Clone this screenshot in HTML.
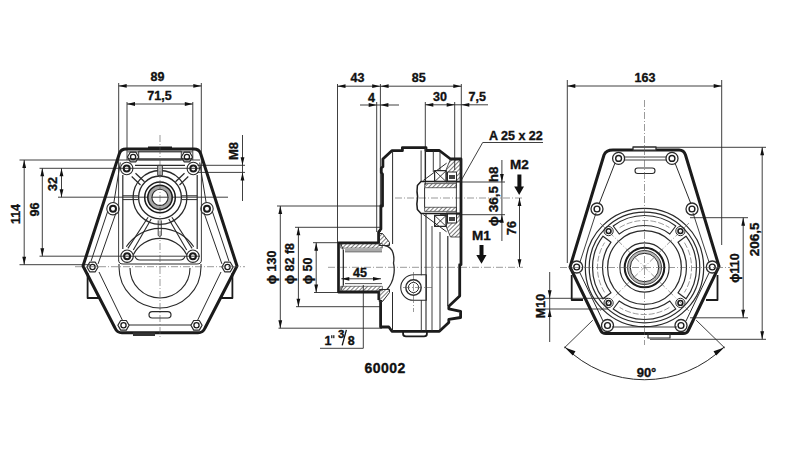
<!DOCTYPE html>
<html><head><meta charset="utf-8"><style>
html,body{margin:0;padding:0;background:#fff;width:800px;height:450px;overflow:hidden}
svg{display:block}
text{font-family:"Liberation Sans",sans-serif;fill:#111;stroke:#111;stroke-width:0.35px}
</style></head><body>
<svg width="800" height="450" viewBox="0 0 800 450">
<defs><pattern id="hatch" width="3" height="3" patternUnits="userSpaceOnUse" patternTransform="rotate(45)"><line x1="0" y1="0" x2="0" y2="3" stroke="#222" stroke-width="1.2"/></pattern></defs>
<rect width="800" height="450" fill="#fff"/>
<g stroke-linecap="butt" stroke-linejoin="round">
<line x1="118.7" y1="83.0" x2="118.7" y2="160.0" stroke="#2a2a2a" stroke-width="0.9"/>
<line x1="201.3" y1="83.0" x2="201.3" y2="160.0" stroke="#2a2a2a" stroke-width="0.9"/>
<line x1="118.7" y1="85.9" x2="201.3" y2="85.9" stroke="#2a2a2a" stroke-width="0.9"/>
<path d="M118.7,85.9 L126.7,84.0 L126.7,87.8 Z" fill="#111"/>
<path d="M201.3,85.9 L193.3,87.8 L193.3,84.0 Z" fill="#111"/>
<text x="157.5" y="77.0" font-size="12.5" font-weight="bold" text-anchor="middle" dominant-baseline="central">89</text>
<line x1="127.0" y1="102.0" x2="127.0" y2="160.0" stroke="#2a2a2a" stroke-width="0.9"/>
<line x1="192.8" y1="102.0" x2="192.8" y2="160.0" stroke="#2a2a2a" stroke-width="0.9"/>
<line x1="127.0" y1="104.0" x2="192.8" y2="104.0" stroke="#2a2a2a" stroke-width="0.9"/>
<path d="M127.0,104.0 L135.0,102.1 L135.0,105.9 Z" fill="#111"/>
<path d="M192.8,104.0 L184.8,105.9 L184.8,102.1 Z" fill="#111"/>
<text x="159.5" y="96.0" font-size="12.5" font-weight="bold" text-anchor="middle" dominant-baseline="central">71,5</text>
<line x1="19.5" y1="160.0" x2="200.0" y2="160.0" stroke="#2a2a2a" stroke-width="0.9"/>
<line x1="19.5" y1="264.7" x2="90.0" y2="264.7" stroke="#2a2a2a" stroke-width="0.9"/>
<line x1="24.2" y1="160.0" x2="24.2" y2="264.7" stroke="#2a2a2a" stroke-width="0.9"/>
<path d="M24.2,160.0 L26.1,168.0 L22.3,168.0 Z" fill="#111"/>
<path d="M24.2,264.7 L22.3,256.7 L26.1,256.7 Z" fill="#111"/>
<text x="16.3" y="214.0" font-size="12.5" font-weight="bold" text-anchor="middle" dominant-baseline="central" transform="rotate(-90 16.3 214.0)">114</text>
<line x1="39.5" y1="168.3" x2="200.0" y2="168.3" stroke="#2a2a2a" stroke-width="0.9"/>
<line x1="39.5" y1="256.2" x2="200.0" y2="256.2" stroke="#2a2a2a" stroke-width="0.9"/>
<line x1="42.3" y1="168.3" x2="42.3" y2="256.2" stroke="#2a2a2a" stroke-width="0.9"/>
<path d="M42.3,168.3 L44.2,176.3 L40.4,176.3 Z" fill="#111"/>
<path d="M42.3,256.2 L40.4,248.2 L44.2,248.2 Z" fill="#111"/>
<text x="34.7" y="209.5" font-size="12.5" font-weight="bold" text-anchor="middle" dominant-baseline="central" transform="rotate(-90 34.7 209.5)">96</text>
<line x1="58.0" y1="197.2" x2="228.0" y2="197.2" stroke="#2a2a2a" stroke-width="0.9"/>
<line x1="61.5" y1="168.3" x2="61.5" y2="197.2" stroke="#2a2a2a" stroke-width="0.9"/>
<path d="M61.5,168.3 L63.4,176.3 L59.6,176.3 Z" fill="#111"/>
<path d="M61.5,197.2 L59.6,189.2 L63.4,189.2 Z" fill="#111"/>
<text x="53.0" y="184.0" font-size="12.5" font-weight="bold" text-anchor="middle" dominant-baseline="central" transform="rotate(-90 53.0 184.0)">32</text>
<line x1="242.5" y1="135.0" x2="242.5" y2="201.0" stroke="#2a2a2a" stroke-width="0.9"/>
<path d="M242.5,165.3 L240.6,157.3 L244.4,157.3 Z" fill="#111"/>
<path d="M242.5,172.4 L244.4,180.4 L240.6,180.4 Z" fill="#111"/>
<line x1="197.5" y1="165.3" x2="245.0" y2="165.3" stroke="#2a2a2a" stroke-width="0.9"/>
<line x1="197.0" y1="172.4" x2="245.0" y2="172.4" stroke="#2a2a2a" stroke-width="0.9"/>
<text x="233.5" y="151.0" font-size="13" font-weight="bold" text-anchor="middle" dominant-baseline="central" transform="rotate(-90 233.5 151.0)">M8</text>
<path d="M126,149 L194,149 Q199,149 200.6,153.5 L237,266 L205,328 Q203,332.8 198,332.8 L122,332.8 Q117,332.8 115,328 L83,266 L119.4,153.5 Q121,149 126,149 Z" stroke="#1b1b1b" stroke-width="3.0" fill="none" />
<rect x="148.0" y="146.5" width="24.0" height="3.0" rx="0" stroke="#2a2a2a" stroke-width="0" fill="#1b1b1b"/>
<rect x="133.0" y="332.4" width="22.0" height="3.6" rx="0" stroke="#2a2a2a" stroke-width="0" fill="#333"/>
<path d="M87.6,273 L87.6,298 L99.5,298" stroke="#1b1b1b" stroke-width="1.8" fill="none" />
<path d="M232.4,273 L232.4,298 L220.5,298" stroke="#1b1b1b" stroke-width="1.8" fill="none" />
<line x1="127.5" y1="151.9" x2="192.5" y2="151.9" stroke="#2a2a2a" stroke-width="0.9"/>
<line x1="127.5" y1="158.8" x2="192.5" y2="158.8" stroke="#2a2a2a" stroke-width="1.0"/>
<rect x="138.7" y="151.2" width="42.6" height="8.6" rx="0" stroke="#2a2a2a" stroke-width="0.9" fill="none"/>
<line x1="199.7" y1="162.5" x2="206.2" y2="203.0" stroke="#2a2a2a" stroke-width="1.0"/>
<line x1="120.3" y1="162.5" x2="113.8" y2="203.0" stroke="#2a2a2a" stroke-width="1.0"/>
<line x1="203.9" y1="212.5" x2="221.9" y2="263.9" stroke="#2a2a2a" stroke-width="1.0"/>
<line x1="212.2" y1="211.0" x2="228.9" y2="261.0" stroke="#2a2a2a" stroke-width="1.0"/>
<line x1="116.1" y1="212.5" x2="98.1" y2="263.9" stroke="#2a2a2a" stroke-width="1.0"/>
<line x1="107.8" y1="211.0" x2="91.1" y2="261.0" stroke="#2a2a2a" stroke-width="1.0"/>
<line x1="99.0" y1="272.0" x2="122.3" y2="320.0" stroke="#2a2a2a" stroke-width="1.0"/>
<line x1="221.0" y1="272.0" x2="197.7" y2="320.0" stroke="#2a2a2a" stroke-width="1.0"/>
<line x1="129.0" y1="325.0" x2="191.0" y2="325.0" stroke="#2a2a2a" stroke-width="1.0"/>
<line x1="122.8" y1="175.0" x2="122.8" y2="249.0" stroke="#2a2a2a" stroke-width="1.2"/>
<line x1="197.2" y1="175.0" x2="197.2" y2="249.0" stroke="#2a2a2a" stroke-width="1.2"/>
<line x1="118.6" y1="160.0" x2="118.6" y2="260.0" stroke="#2a2a2a" stroke-width="0.9"/>
<line x1="201.4" y1="160.0" x2="201.4" y2="260.0" stroke="#2a2a2a" stroke-width="0.9"/>
<path d="M118.6,260 Q118.6,264 123,264 L197,264 Q201.4,264 201.4,260" stroke="#2a2a2a" stroke-width="1.0" fill="none" />
<line x1="135.0" y1="165.4" x2="185.0" y2="165.4" stroke="#2a2a2a" stroke-width="1.2"/>
<path d="M134.9,256.2 Q136,260 140,260 L180,260 Q184,260 185.1,256.2" stroke="#2a2a2a" stroke-width="1.1" fill="none" />
<circle cx="160.0" cy="197.4" r="10.2" stroke="#a8a8a8" stroke-width="3.6" fill="none"/>
<circle cx="160.0" cy="197.4" r="8.1" stroke="#2a2a2a" stroke-width="1.1" fill="none"/>
<circle cx="160.0" cy="197.4" r="12.2" stroke="#1b1b1b" stroke-width="1.6" fill="none"/>
<circle cx="160.0" cy="197.4" r="15.3" stroke="#1b1b1b" stroke-width="1.5" fill="none"/>
<circle cx="160.0" cy="197.4" r="21.4" stroke="#2a2a2a" stroke-width="1.3" fill="none"/>
<circle cx="160.0" cy="197.4" r="26.9" stroke="#2a2a2a" stroke-width="1.3" fill="none"/>
<line x1="122.8" y1="195.8" x2="138.3" y2="195.8" stroke="#2a2a2a" stroke-width="1"/>
<line x1="122.8" y1="199.6" x2="138.3" y2="199.6" stroke="#2a2a2a" stroke-width="1"/>
<line x1="181.7" y1="195.8" x2="197.2" y2="195.8" stroke="#2a2a2a" stroke-width="1"/>
<line x1="181.7" y1="199.6" x2="197.2" y2="199.6" stroke="#2a2a2a" stroke-width="1"/>
<rect x="157.7" y="165.4" width="4.7" height="10.0" rx="0" stroke="#2a2a2a" stroke-width="0.9" fill="#bbb"/>
<line x1="131.7" y1="176.5" x2="140.5" y2="185.0" stroke="#2a2a2a" stroke-width="1.2"/>
<line x1="135.5" y1="173.2" x2="144.5" y2="181.8" stroke="#2a2a2a" stroke-width="1.2"/>
<line x1="188.3" y1="176.5" x2="179.5" y2="185.0" stroke="#2a2a2a" stroke-width="1.2"/>
<line x1="184.5" y1="173.2" x2="175.5" y2="181.8" stroke="#2a2a2a" stroke-width="1.2"/>
<line x1="148.1" y1="217.3" x2="127.9" y2="248.4" stroke="#2a2a2a" stroke-width="1.1"/>
<line x1="151.2" y1="218.9" x2="133.3" y2="250.0" stroke="#2a2a2a" stroke-width="1.1"/>
<line x1="171.9" y1="217.3" x2="192.1" y2="248.4" stroke="#2a2a2a" stroke-width="1.1"/>
<line x1="168.8" y1="218.9" x2="186.7" y2="250.0" stroke="#2a2a2a" stroke-width="1.1"/>
<path d="M158.2,220.4 L158.2,235.5 Q159.7,237.5 161.3,235.5 L161.3,220.4" stroke="#2a2a2a" stroke-width="0.9" fill="none" />
<path d="M126.3,246.8 A40,40 0 0 1 193.7,246.8" stroke="#2a2a2a" stroke-width="1.1" fill="none" />
<path d="M133.3,254.7 A30,30 0 0 1 186.7,254.7" stroke="#2a2a2a" stroke-width="1.2" fill="none" />
<path d="M130,268 A30,30 0 0 0 190,268" stroke="#2a2a2a" stroke-width="1.1" fill="none" />
<path d="M119,264 L119,267 A41,41 0 0 0 201,267 L201,264" stroke="#2a2a2a" stroke-width="1.1" fill="none" />
<rect x="149.0" y="311.6" width="22.0" height="6.4" rx="3.2" stroke="#2a2a2a" stroke-width="1.2" fill="none"/>
<polygon points="138.7,157.0 135.9,161.8 130.3,161.8 127.5,157.0 130.3,152.2 135.9,152.2" stroke="#2a2a2a" stroke-width="1.2" fill="none"/>
<circle cx="133.1" cy="157.0" r="2.6" stroke="#1b1b1b" stroke-width="1.3" fill="none"/>
<polygon points="192.5,157.0 189.7,161.8 184.1,161.8 181.3,157.0 184.1,152.2 189.7,152.2" stroke="#2a2a2a" stroke-width="1.2" fill="none"/>
<circle cx="186.9" cy="157.0" r="2.6" stroke="#1b1b1b" stroke-width="1.3" fill="none"/>
<polygon points="98.1,267.0 95.3,271.8 89.7,271.8 86.9,267.0 89.7,262.2 95.3,262.2" stroke="#2a2a2a" stroke-width="1.2" fill="none"/>
<circle cx="92.5" cy="267.0" r="2.6" stroke="#1b1b1b" stroke-width="1.3" fill="none"/>
<polygon points="233.1,267.0 230.3,271.8 224.7,271.8 221.9,267.0 224.7,262.2 230.3,262.2" stroke="#2a2a2a" stroke-width="1.2" fill="none"/>
<circle cx="227.5" cy="267.0" r="2.6" stroke="#1b1b1b" stroke-width="1.3" fill="none"/>
<polygon points="129.1,325.3 126.3,330.1 120.7,330.1 117.9,325.3 120.7,320.5 126.3,320.5" stroke="#2a2a2a" stroke-width="1.2" fill="none"/>
<circle cx="123.5" cy="325.3" r="2.6" stroke="#1b1b1b" stroke-width="1.3" fill="none"/>
<polygon points="202.1,325.3 199.3,330.1 193.7,330.1 190.9,325.3 193.7,320.5 199.3,320.5" stroke="#2a2a2a" stroke-width="1.2" fill="none"/>
<circle cx="196.5" cy="325.3" r="2.6" stroke="#1b1b1b" stroke-width="1.3" fill="none"/>
<circle cx="126.7" cy="168.5" r="6.2" stroke="#2a2a2a" stroke-width="1.1" fill="none"/>
<circle cx="126.7" cy="168.5" r="3.0" stroke="#1b1b1b" stroke-width="2.0" fill="none"/>
<circle cx="193.3" cy="168.5" r="6.2" stroke="#2a2a2a" stroke-width="1.1" fill="none"/>
<circle cx="193.3" cy="168.5" r="3.0" stroke="#1b1b1b" stroke-width="2.0" fill="none"/>
<circle cx="113.0" cy="208.7" r="6.2" stroke="#2a2a2a" stroke-width="1.1" fill="none"/>
<circle cx="113.0" cy="208.7" r="3.0" stroke="#1b1b1b" stroke-width="2.0" fill="none"/>
<circle cx="207.0" cy="208.7" r="6.2" stroke="#2a2a2a" stroke-width="1.1" fill="none"/>
<circle cx="207.0" cy="208.7" r="3.0" stroke="#1b1b1b" stroke-width="2.0" fill="none"/>
<circle cx="127.1" cy="256.2" r="6.2" stroke="#2a2a2a" stroke-width="1.1" fill="none"/>
<circle cx="127.1" cy="256.2" r="3.0" stroke="#1b1b1b" stroke-width="2.0" fill="none"/>
<circle cx="192.9" cy="256.2" r="6.2" stroke="#2a2a2a" stroke-width="1.1" fill="none"/>
<circle cx="192.9" cy="256.2" r="3.0" stroke="#1b1b1b" stroke-width="2.0" fill="none"/>
<line x1="160.0" y1="135.0" x2="160.0" y2="338.0" stroke="#555" stroke-width="0.6" stroke-dasharray="7 2 1 2"/>
<line x1="75.0" y1="266.7" x2="245.0" y2="266.7" stroke="#555" stroke-width="0.6" stroke-dasharray="7 2 1 2"/>
<line x1="337.5" y1="84.0" x2="337.5" y2="243.0" stroke="#2a2a2a" stroke-width="0.9"/>
<line x1="376.7" y1="102.0" x2="376.7" y2="232.0" stroke="#2a2a2a" stroke-width="0.9"/>
<line x1="380.4" y1="84.0" x2="380.4" y2="232.0" stroke="#2a2a2a" stroke-width="0.9"/>
<line x1="337.5" y1="86.2" x2="461.3" y2="86.2" stroke="#2a2a2a" stroke-width="0.9"/>
<path d="M337.5,86.2 L345.5,84.3 L345.5,88.1 Z" fill="#111"/>
<path d="M380.2,86.2 L372.2,88.1 L372.2,84.3 Z" fill="#111"/>
<path d="M380.6,86.2 L388.6,84.3 L388.6,88.1 Z" fill="#111"/>
<path d="M461.3,86.2 L453.3,88.1 L453.3,84.3 Z" fill="#111"/>
<text x="357.5" y="78.0" font-size="12.5" font-weight="bold" text-anchor="middle" dominant-baseline="central">43</text>
<text x="418.7" y="78.0" font-size="12.5" font-weight="bold" text-anchor="middle" dominant-baseline="central">85</text>
<line x1="360.0" y1="105.0" x2="399.0" y2="105.0" stroke="#2a2a2a" stroke-width="0.9"/>
<path d="M376.7,105.0 L368.7,106.9 L368.7,103.1 Z" fill="#111"/>
<path d="M380.4,105.0 L388.4,103.1 L388.4,106.9 Z" fill="#111"/>
<text x="371.6" y="97.5" font-size="12.5" font-weight="bold" text-anchor="middle" dominant-baseline="central">4</text>
<line x1="425.3" y1="102.0" x2="425.3" y2="185.0" stroke="#2a2a2a" stroke-width="0.9"/>
<line x1="454.7" y1="102.0" x2="454.7" y2="170.0" stroke="#2a2a2a" stroke-width="0.9"/>
<line x1="461.3" y1="84.0" x2="461.3" y2="160.0" stroke="#2a2a2a" stroke-width="0.9"/>
<line x1="425.3" y1="104.8" x2="488.0" y2="104.8" stroke="#2a2a2a" stroke-width="0.9"/>
<path d="M425.3,104.8 L433.3,102.9 L433.3,106.7 Z" fill="#111"/>
<path d="M454.7,104.8 L446.7,106.7 L446.7,102.9 Z" fill="#111"/>
<path d="M461.3,104.8 L469.3,102.9 L469.3,106.7 Z" fill="#111"/>
<text x="440.0" y="97.0" font-size="12.5" font-weight="bold" text-anchor="middle" dominant-baseline="central">30</text>
<text x="477.3" y="97.0" font-size="12.5" font-weight="bold" text-anchor="middle" dominant-baseline="central">7,5</text>
<text x="489.0" y="135.5" font-size="12.5" font-weight="bold" text-anchor="start" dominant-baseline="central">A 25 x 22</text>
<line x1="482.7" y1="142.5" x2="543.0" y2="142.5" stroke="#2a2a2a" stroke-width="0.9"/>
<line x1="482.7" y1="142.5" x2="461.0" y2="180.7" stroke="#2a2a2a" stroke-width="0.9"/>
<text x="519.5" y="164.8" font-size="13.5" font-weight="bold" text-anchor="middle" dominant-baseline="central">M2</text>
<path d="M519.2,195 L514.2,186.5 L517.4,186.5 L517.4,174.6 L521.4,174.6 L521.4,186.5 L524,186.5 Z" stroke="#2a2a2a" stroke-width="0" fill="#111" />
<line x1="461.0" y1="182.0" x2="505.0" y2="182.0" stroke="#2a2a2a" stroke-width="0.9"/>
<line x1="440.0" y1="214.7" x2="505.0" y2="214.7" stroke="#2a2a2a" stroke-width="0.9"/>
<line x1="501.9" y1="160.0" x2="501.9" y2="241.0" stroke="#2a2a2a" stroke-width="0.9"/>
<path d="M501.9,182.0 L500.0,174.0 L503.8,174.0 Z" fill="#111"/>
<path d="M501.9,214.7 L503.8,222.7 L500.0,222.7 Z" fill="#111"/>
<text x="493.8" y="226.2" font-size="13.5" font-weight="bold" text-anchor="start" dominant-baseline="central" transform="rotate(-90 493.8 226.2)">ϕ 36,5 h8</text>
<line x1="395.0" y1="198.0" x2="523.0" y2="198.0" stroke="#555" stroke-width="0.6" stroke-dasharray="7 2 1 2"/>
<line x1="519.5" y1="198.0" x2="519.5" y2="267.2" stroke="#2a2a2a" stroke-width="0.9"/>
<path d="M519.5,198.0 L521.4,206.0 L517.6,206.0 Z" fill="#111"/>
<path d="M519.5,267.2 L517.6,259.2 L521.4,259.2 Z" fill="#111"/>
<text x="512.0" y="228.0" font-size="12.5" font-weight="bold" text-anchor="middle" dominant-baseline="central" transform="rotate(-90 512.0 228.0)">76</text>
<line x1="328.0" y1="267.3" x2="523.0" y2="267.3" stroke="#555" stroke-width="0.6" stroke-dasharray="7 2 1 2"/>
<text x="481.3" y="235.0" font-size="13.5" font-weight="bold" text-anchor="middle" dominant-baseline="central">M1</text>
<path d="M481.5,263.7 L476.3,255 L479.5,255 L479.5,245 L483.5,245 L483.5,255 L486.5,255 Z" stroke="#2a2a2a" stroke-width="0" fill="#111" />
<line x1="277.0" y1="206.0" x2="382.0" y2="206.0" stroke="#2a2a2a" stroke-width="0.9"/>
<line x1="278.5" y1="328.2" x2="382.0" y2="328.2" stroke="#2a2a2a" stroke-width="0.9"/>
<line x1="280.3" y1="206.0" x2="280.3" y2="328.2" stroke="#2a2a2a" stroke-width="0.9"/>
<path d="M280.3,206.0 L282.2,214.0 L278.4,214.0 Z" fill="#111"/>
<path d="M280.3,328.2 L278.4,320.2 L282.2,320.2 Z" fill="#111"/>
<text x="272.3" y="284.3" font-size="12.5" font-weight="bold" text-anchor="start" dominant-baseline="central" transform="rotate(-90 272.3 284.3)">ϕ 130</text>
<line x1="295.0" y1="227.3" x2="382.0" y2="227.3" stroke="#2a2a2a" stroke-width="0.9"/>
<line x1="296.0" y1="306.7" x2="382.0" y2="306.7" stroke="#2a2a2a" stroke-width="0.9"/>
<line x1="298.4" y1="227.3" x2="298.4" y2="306.7" stroke="#2a2a2a" stroke-width="0.9"/>
<path d="M298.4,227.3 L300.3,235.3 L296.5,235.3 Z" fill="#111"/>
<path d="M298.4,306.7 L296.5,298.7 L300.3,298.7 Z" fill="#111"/>
<text x="290.3" y="284.3" font-size="12.5" font-weight="bold" text-anchor="start" dominant-baseline="central" transform="rotate(-90 290.3 284.3)">ϕ 82 f8</text>
<line x1="313.0" y1="242.7" x2="340.0" y2="242.7" stroke="#2a2a2a" stroke-width="0.9"/>
<line x1="314.0" y1="292.5" x2="340.0" y2="292.5" stroke="#2a2a2a" stroke-width="0.9"/>
<line x1="316.2" y1="242.7" x2="316.2" y2="292.5" stroke="#2a2a2a" stroke-width="0.9"/>
<path d="M316.2,242.7 L318.1,250.7 L314.3,250.7 Z" fill="#111"/>
<path d="M316.2,292.5 L314.3,284.5 L318.1,284.5 Z" fill="#111"/>
<text x="308.3" y="284.3" font-size="12.5" font-weight="bold" text-anchor="start" dominant-baseline="central" transform="rotate(-90 308.3 284.3)">ϕ 50</text>
<line x1="341.3" y1="278.8" x2="381.0" y2="278.8" stroke="#2a2a2a" stroke-width="0.9"/>
<path d="M341.3,278.8 L349.3,276.9 L349.3,280.7 Z" fill="#111"/>
<path d="M381.0,278.8 L373.0,280.7 L373.0,276.9 Z" fill="#111"/>
<text x="360.0" y="272.5" font-size="12.5" font-weight="bold" text-anchor="middle" dominant-baseline="central">45</text>
<line x1="320.0" y1="348.3" x2="363.3" y2="348.3" stroke="#2a2a2a" stroke-width="0.9"/>
<line x1="363.3" y1="348.3" x2="363.3" y2="285.0" stroke="#2a2a2a" stroke-width="0.9"/>
<text x="324.5" y="341.0" font-size="12.5" font-weight="bold" text-anchor="start" dominant-baseline="central">1</text>
<rect x="331.2" y="335.2" width="1.2" height="3.0" rx="0" stroke="#2a2a2a" stroke-width="0" fill="#111"/>
<rect x="333.2" y="335.2" width="1.2" height="3.0" rx="0" stroke="#2a2a2a" stroke-width="0" fill="#111"/>
<text x="341.1" y="334.0" font-size="11.5" font-weight="bold" text-anchor="middle" dominant-baseline="central">3</text>
<line x1="342.2" y1="345.3" x2="346.4" y2="329.8" stroke="#111" stroke-width="1.3"/>
<text x="351.2" y="341.0" font-size="12.5" font-weight="bold" text-anchor="middle" dominant-baseline="central">8</text>
<path d="M378.6,243 L378.6,232 L380.9,229 L380.9,206 L382.5,206 L382.5,174 L381.3,172.5 L381.3,168 L382.9,166.7 L382.9,159.1 L391.8,150.7 L402.4,150.7 L402.4,147.6 L426,147.6 L426,150.5 L439.4,150.5 L450.5,159 L461,159 L461,264.7 L459.7,264.7 L459.7,296 L448.8,306.3 L448.8,308.8 L460.6,311.3 L460.6,317.5 L448.8,319.4 L448.8,322.5 L439.4,331.3 L391.9,331.3 L388.8,327 L380.6,327 L380.6,300" stroke="#1b1b1b" stroke-width="2.8" fill="none" />
<path d="M403.1,331.3 L403.1,334 Q403.1,336.3 406,336.3 L424,336.3 Q426.9,336.3 426.9,334 L426.9,331.3" stroke="#1b1b1b" stroke-width="1.8" fill="none" />
<path d="M378.8,242.8 L338.5,242.8 L338.5,292.1 L378.8,292.1 L378.8,300" stroke="#1b1b1b" stroke-width="2.7" fill="none" />
<rect x="340.7" y="243.6" width="41.7" height="4.5" rx="0" stroke="#2a2a2a" stroke-width="0.6" fill="url(#hatch)"/>
<rect x="340.7" y="286.3" width="41.7" height="4.5" rx="0" stroke="#2a2a2a" stroke-width="0.6" fill="url(#hatch)"/>
<line x1="345.0" y1="250.0" x2="382.0" y2="250.0" stroke="#2a2a2a" stroke-width="0.8"/>
<line x1="345.0" y1="251.8" x2="382.0" y2="251.8" stroke="#2a2a2a" stroke-width="0.8"/>
<line x1="345.0" y1="283.6" x2="382.0" y2="283.6" stroke="#2a2a2a" stroke-width="0.8"/>
<line x1="340.7" y1="243.6" x2="343.3" y2="250.0" stroke="#2a2a2a" stroke-width="0.9"/>
<line x1="343.3" y1="250.0" x2="343.3" y2="285.4" stroke="#1b1b1b" stroke-width="1.2"/>
<line x1="340.7" y1="290.7" x2="343.3" y2="285.4" stroke="#2a2a2a" stroke-width="0.9"/>
<path d="M379.2,233.5 L382.5,233.5 L389.5,242.5 L389.5,245.5 L379.2,245.5 Z" stroke="#2a2a2a" stroke-width="1.0" fill="url(#hatch)" />
<path d="M379.2,289.5 L389.5,289.5 L389.5,292.5 L382.5,301.5 L379.2,301.5 Z" stroke="#2a2a2a" stroke-width="1.0" fill="url(#hatch)" />
<path d="M384.5,245.5 Q391,246.5 393,253 Q394.5,258 393.5,263 Q395,270 393.5,276 Q392.5,283 387,289.5" stroke="#2a2a2a" stroke-width="1.3" fill="none" />
<line x1="392.6" y1="151.0" x2="392.6" y2="244.0" stroke="#2a2a2a" stroke-width="1.0"/>
<line x1="392.5" y1="292.0" x2="392.5" y2="331.0" stroke="#2a2a2a" stroke-width="1.0"/>
<line x1="421.1" y1="150.5" x2="421.1" y2="181.0" stroke="#2a2a2a" stroke-width="0.9"/>
<line x1="425.4" y1="148.0" x2="425.4" y2="182.0" stroke="#2a2a2a" stroke-width="1.3"/>
<line x1="433.3" y1="150.5" x2="433.3" y2="172.0" stroke="#2a2a2a" stroke-width="0.9"/>
<line x1="440.0" y1="152.0" x2="440.0" y2="170.0" stroke="#2a2a2a" stroke-width="0.9"/>
<line x1="421.3" y1="214.0" x2="421.3" y2="275.3" stroke="#2a2a2a" stroke-width="0.9"/>
<line x1="421.3" y1="300.0" x2="421.3" y2="331.0" stroke="#2a2a2a" stroke-width="0.9"/>
<line x1="426.0" y1="214.0" x2="426.0" y2="331.0" stroke="#2a2a2a" stroke-width="1.1"/>
<line x1="432.0" y1="226.0" x2="432.0" y2="331.0" stroke="#2a2a2a" stroke-width="0.9"/>
<line x1="440.0" y1="232.0" x2="440.0" y2="331.0" stroke="#2a2a2a" stroke-width="1.0"/>
<line x1="447.8" y1="236.0" x2="447.8" y2="306.0" stroke="#2a2a2a" stroke-width="1.2"/>
<path d="M460.8,181.6 L421,181.6 L417.4,185.5 Q416.5,192 417.6,197 Q416.3,204 417.4,209.5 L421,213.4 L460.8,213.4" stroke="#1b1b1b" stroke-width="1.5" fill="none" />
<rect x="424.6" y="183.6" width="31.8" height="4.1" rx="0" stroke="#2a2a2a" stroke-width="0.7" fill="url(#hatch)"/>
<rect x="424.6" y="207.3" width="31.8" height="4.1" rx="0" stroke="#2a2a2a" stroke-width="0.7" fill="url(#hatch)"/>
<line x1="424.6" y1="187.7" x2="424.6" y2="207.3" stroke="#2a2a2a" stroke-width="1.0"/>
<line x1="456.4" y1="181.6" x2="456.4" y2="213.4" stroke="#2a2a2a" stroke-width="0.9"/>
<line x1="423.4" y1="180.4" x2="446.6" y2="163.2" stroke="#2a2a2a" stroke-width="1.0"/>
<line x1="423.4" y1="214.6" x2="446.6" y2="231.8" stroke="#2a2a2a" stroke-width="1.0"/>
<rect x="434.6" y="170.7" width="11.6" height="11.0" rx="0" stroke="#2a2a2a" stroke-width="1.2" fill="none"/>
<line x1="434.6" y1="170.7" x2="446.2" y2="181.7" stroke="#2a2a2a" stroke-width="0.9"/>
<line x1="446.2" y1="170.7" x2="434.6" y2="181.7" stroke="#2a2a2a" stroke-width="0.9"/>
<rect x="434.6" y="215.4" width="11.6" height="11.0" rx="0" stroke="#2a2a2a" stroke-width="1.2" fill="none"/>
<line x1="434.6" y1="215.4" x2="446.2" y2="226.4" stroke="#2a2a2a" stroke-width="0.9"/>
<line x1="446.2" y1="215.4" x2="434.6" y2="226.4" stroke="#2a2a2a" stroke-width="0.9"/>
<path d="M446,170 L450.5,159 L460.8,159 L460.8,182 L446,182 Z" stroke="#2a2a2a" stroke-width="0.8" fill="url(#hatch)" />
<path d="M446,213 L460.8,213 L460.8,237 L450.5,237 L446,226 Z" stroke="#2a2a2a" stroke-width="0.8" fill="url(#hatch)" />
<rect x="447.5" y="172.0" width="9.0" height="9.0" rx="0" stroke="#2a2a2a" stroke-width="1.0" fill="#fff"/>
<rect x="447.5" y="214.0" width="9.0" height="9.0" rx="0" stroke="#2a2a2a" stroke-width="1.0" fill="#fff"/>
<rect x="449.0" y="175.0" width="6.0" height="4.0" rx="0" stroke="#2a2a2a" stroke-width="0" fill="#444"/>
<rect x="449.0" y="217.0" width="6.0" height="4.0" rx="0" stroke="#2a2a2a" stroke-width="0" fill="#444"/>
<path d="M426.3,274.8 L413.5,274.8 A12.75,12.75 0 0 0 413.5,300.3 L426.3,300.3 Z" stroke="#2a2a2a" stroke-width="1.1" fill="none" />
<circle cx="413.5" cy="287.5" r="7.7" stroke="#2a2a2a" stroke-width="1.4" fill="none"/>
<circle cx="413.5" cy="287.5" r="5.1" stroke="#2a2a2a" stroke-width="1.0" fill="none"/>
<line x1="403.0" y1="287.5" x2="432.0" y2="287.5" stroke="#555" stroke-width="0.6" stroke-dasharray="7 2 1 2"/>
<line x1="413.5" y1="272.0" x2="413.5" y2="312.0" stroke="#555" stroke-width="0.6" stroke-dasharray="7 2 1 2"/>
<text x="385.2" y="367.8" font-size="14" font-weight="bold" text-anchor="middle" dominant-baseline="central" letter-spacing="0.5">60002</text>
<line x1="567.3" y1="80.0" x2="567.3" y2="263.0" stroke="#2a2a2a" stroke-width="0.9"/>
<line x1="721.7" y1="80.0" x2="721.7" y2="245.0" stroke="#2a2a2a" stroke-width="0.9"/>
<line x1="567.3" y1="86.0" x2="721.7" y2="86.0" stroke="#2a2a2a" stroke-width="0.9"/>
<path d="M567.3,86.0 L575.3,84.1 L575.3,87.9 Z" fill="#111"/>
<path d="M721.7,86.0 L713.7,87.9 L713.7,84.1 Z" fill="#111"/>
<text x="645.0" y="77.5" font-size="12.5" font-weight="bold" text-anchor="middle" dominant-baseline="central">163</text>
<line x1="656.0" y1="147.3" x2="766.0" y2="147.3" stroke="#2a2a2a" stroke-width="0.9"/>
<line x1="650.0" y1="339.3" x2="766.0" y2="339.3" stroke="#2a2a2a" stroke-width="0.9"/>
<line x1="762.2" y1="147.3" x2="762.2" y2="339.3" stroke="#2a2a2a" stroke-width="0.9"/>
<path d="M762.2,147.3 L764.1,155.3 L760.3,155.3 Z" fill="#111"/>
<path d="M762.2,339.3 L760.3,331.3 L764.1,331.3 Z" fill="#111"/>
<text x="754.2" y="239.3" font-size="13.5" font-weight="bold" text-anchor="middle" dominant-baseline="central" transform="rotate(-90 754.2 239.3)">206,5</text>
<line x1="690.0" y1="217.7" x2="748.0" y2="217.7" stroke="#2a2a2a" stroke-width="0.9"/>
<line x1="690.0" y1="317.8" x2="748.0" y2="317.8" stroke="#2a2a2a" stroke-width="0.9"/>
<line x1="743.2" y1="217.7" x2="743.2" y2="317.8" stroke="#2a2a2a" stroke-width="0.9"/>
<path d="M743.2,217.7 L745.1,225.7 L741.3,225.7 Z" fill="#111"/>
<path d="M743.2,317.8 L741.3,309.8 L745.1,309.8 Z" fill="#111"/>
<text x="735.0" y="282.8" font-size="12.5" font-weight="bold" text-anchor="start" dominant-baseline="central" transform="rotate(-90 735.0 282.8)">ϕ110</text>
<line x1="549.7" y1="272.0" x2="549.7" y2="342.0" stroke="#2a2a2a" stroke-width="0.9"/>
<path d="M549.7,298.3 L547.8,290.3 L551.6,290.3 Z" fill="#111"/>
<path d="M549.7,309.0 L551.6,317.0 L547.8,317.0 Z" fill="#111"/>
<line x1="545.0" y1="298.3" x2="608.0" y2="298.3" stroke="#2a2a2a" stroke-width="0.9"/>
<line x1="545.0" y1="309.0" x2="608.0" y2="309.0" stroke="#2a2a2a" stroke-width="0.9"/>
<text x="541.0" y="306.0" font-size="12.5" font-weight="bold" text-anchor="middle" dominant-baseline="central" transform="rotate(-90 541.0 306.0)">M10</text>
<path d="M613,150 L679,150 Q684,150 685.5,155 L719,266.3 L688,331 Q687,333.5 683,333.5 L606,333.5 Q602,333.5 601,331 L570,267 L604,155 Q606,150 613,150 Z" stroke="#1b1b1b" stroke-width="3.0" fill="none" />
<rect x="633.0" y="147.0" width="23.0" height="3.2" rx="0" stroke="#2a2a2a" stroke-width="1.3" fill="#fff"/>
<rect x="648.0" y="333.5" width="22.0" height="4.5" rx="0" stroke="#2a2a2a" stroke-width="1.2" fill="none"/>
<path d="M571.7,275 L571.7,300 L583,300" stroke="#1b1b1b" stroke-width="1.8" fill="none" />
<path d="M717.5,275 L717.5,300 L706,300" stroke="#1b1b1b" stroke-width="1.8" fill="none" />
<line x1="624.0" y1="157.0" x2="666.0" y2="157.0" stroke="#2a2a2a" stroke-width="0.9"/>
<line x1="624.0" y1="160.0" x2="666.0" y2="160.0" stroke="#2a2a2a" stroke-width="0.9"/>
<line x1="615.0" y1="163.0" x2="599.0" y2="204.0" stroke="#2a2a2a" stroke-width="1.0"/>
<line x1="675.0" y1="163.0" x2="691.0" y2="204.0" stroke="#2a2a2a" stroke-width="1.0"/>
<line x1="596.0" y1="213.0" x2="580.0" y2="262.0" stroke="#2a2a2a" stroke-width="0.9"/>
<line x1="693.0" y1="213.0" x2="709.0" y2="262.0" stroke="#2a2a2a" stroke-width="0.9"/>
<line x1="580.0" y1="273.0" x2="603.0" y2="321.0" stroke="#2a2a2a" stroke-width="1.0"/>
<line x1="709.0" y1="273.0" x2="686.0" y2="321.0" stroke="#2a2a2a" stroke-width="1.0"/>
<line x1="612.0" y1="327.0" x2="677.0" y2="327.0" stroke="#2a2a2a" stroke-width="0.9"/>
<rect x="635.0" y="168.0" width="20.0" height="5.5" rx="2.75" stroke="#2a2a2a" stroke-width="1.1" fill="none"/>
<circle cx="644.5" cy="267.5" r="15.6" stroke="#b8b8b8" stroke-width="2.6" fill="none"/>
<circle cx="644.5" cy="267.5" r="14.2" stroke="#2a2a2a" stroke-width="1.0" fill="none"/>
<circle cx="644.5" cy="267.5" r="17.0" stroke="#2a2a2a" stroke-width="0.9" fill="none"/>
<circle cx="644.5" cy="267.5" r="19.8" stroke="#1b1b1b" stroke-width="2.0" fill="none"/>
<circle cx="644.5" cy="267.5" r="24.6" stroke="#2a2a2a" stroke-width="1.1" fill="none"/>
<circle cx="644.5" cy="267.5" r="36.9" stroke="#2a2a2a" stroke-width="1.2" fill="none"/>
<circle cx="644.5" cy="267.5" r="55.3" stroke="#2a2a2a" stroke-width="1.2" fill="none"/>
<circle cx="644.5" cy="267.5" r="59.2" stroke="#2a2a2a" stroke-width="1.2" fill="none"/>
<path d="M686.0,236.2 A52,52 0 0 1 686.0,298.8 L678.0,292.8 A42,42 0 0 0 678.0,242.2 Z" stroke="#2a2a2a" stroke-width="1.2" fill="none" />
<path d="M684.4,242.6 A47,47 0 0 1 684.4,292.4" stroke="#555" stroke-width="0.6" fill="none" stroke-dasharray="6 2"/>
<path d="M675.8,309.0 A52,52 0 0 1 613.2,309.0 L619.2,301.0 A42,42 0 0 0 669.8,301.0 Z" stroke="#2a2a2a" stroke-width="1.2" fill="none" />
<path d="M669.4,307.4 A47,47 0 0 1 619.6,307.4" stroke="#555" stroke-width="0.6" fill="none" stroke-dasharray="6 2"/>
<path d="M603.0,298.8 A52,52 0 0 1 603.0,236.2 L611.0,242.2 A42,42 0 0 0 611.0,292.8 Z" stroke="#2a2a2a" stroke-width="1.2" fill="none" />
<path d="M604.6,292.4 A47,47 0 0 1 604.6,242.6" stroke="#555" stroke-width="0.6" fill="none" stroke-dasharray="6 2"/>
<path d="M613.2,226.0 A52,52 0 0 1 675.8,226.0 L669.8,234.0 A42,42 0 0 0 619.2,234.0 Z" stroke="#2a2a2a" stroke-width="1.2" fill="none" />
<path d="M619.6,227.6 A47,47 0 0 1 669.4,227.6" stroke="#555" stroke-width="0.6" fill="none" stroke-dasharray="6 2"/>
<circle cx="618.6" cy="158.4" r="6.0" stroke="#2a2a2a" stroke-width="1.3" fill="none"/>
<circle cx="618.6" cy="158.4" r="2.9" stroke="#1b1b1b" stroke-width="1.4" fill="none"/>
<circle cx="672.0" cy="158.4" r="6.0" stroke="#2a2a2a" stroke-width="1.3" fill="none"/>
<circle cx="672.0" cy="158.4" r="2.9" stroke="#1b1b1b" stroke-width="1.4" fill="none"/>
<circle cx="597.0" cy="209.0" r="6.0" stroke="#2a2a2a" stroke-width="1.3" fill="none"/>
<circle cx="597.0" cy="209.0" r="2.9" stroke="#1b1b1b" stroke-width="1.4" fill="none"/>
<circle cx="692.0" cy="209.0" r="6.0" stroke="#2a2a2a" stroke-width="1.3" fill="none"/>
<circle cx="692.0" cy="209.0" r="2.9" stroke="#1b1b1b" stroke-width="1.4" fill="none"/>
<circle cx="576.7" cy="267.0" r="6.0" stroke="#2a2a2a" stroke-width="1.3" fill="none"/>
<circle cx="576.7" cy="267.0" r="2.9" stroke="#1b1b1b" stroke-width="1.4" fill="none"/>
<circle cx="712.3" cy="267.0" r="6.0" stroke="#2a2a2a" stroke-width="1.3" fill="none"/>
<circle cx="712.3" cy="267.0" r="2.9" stroke="#1b1b1b" stroke-width="1.4" fill="none"/>
<circle cx="607.5" cy="325.5" r="6.0" stroke="#2a2a2a" stroke-width="1.3" fill="none"/>
<circle cx="607.5" cy="325.5" r="2.9" stroke="#1b1b1b" stroke-width="1.4" fill="none"/>
<circle cx="681.0" cy="325.5" r="6.0" stroke="#2a2a2a" stroke-width="1.3" fill="none"/>
<circle cx="681.0" cy="325.5" r="2.9" stroke="#1b1b1b" stroke-width="1.4" fill="none"/>
<circle cx="608.6" cy="231.1" r="4.6" stroke="#2a2a2a" stroke-width="1.0" fill="none"/>
<circle cx="608.6" cy="231.1" r="2.4" stroke="#1b1b1b" stroke-width="1.6" fill="none"/>
<circle cx="680.4" cy="231.1" r="4.6" stroke="#2a2a2a" stroke-width="1.0" fill="none"/>
<circle cx="680.4" cy="231.1" r="2.4" stroke="#1b1b1b" stroke-width="1.6" fill="none"/>
<circle cx="608.6" cy="302.9" r="4.6" stroke="#2a2a2a" stroke-width="1.0" fill="none"/>
<circle cx="608.6" cy="302.9" r="2.4" stroke="#1b1b1b" stroke-width="1.6" fill="none"/>
<circle cx="680.4" cy="302.9" r="4.6" stroke="#2a2a2a" stroke-width="1.0" fill="none"/>
<circle cx="680.4" cy="302.9" r="2.4" stroke="#1b1b1b" stroke-width="1.6" fill="none"/>
<line x1="644.5" y1="100.0" x2="644.5" y2="345.0" stroke="#555" stroke-width="0.6" stroke-dasharray="7 2 1 2"/>
<line x1="560.0" y1="267.5" x2="730.0" y2="267.5" stroke="#555" stroke-width="0.6" stroke-dasharray="7 2 1 2"/>
<line x1="600.0" y1="223.0" x2="689.0" y2="311.0" stroke="#555" stroke-width="0.6" stroke-dasharray="7 2 1 2"/>
<line x1="689.0" y1="223.0" x2="600.0" y2="311.0" stroke="#555" stroke-width="0.6" stroke-dasharray="7 2 1 2"/>
<path d="M564.7,346.7 A112.9,112.9 0 0 0 724.3,346.7" stroke="#2a2a2a" stroke-width="1.0" fill="none" />
<path d="M564.8,347.6 L575.5,351.2 L572.8,355.6 Z" fill="#111"/>
<path d="M724.2,347.6 L716.2,355.6 L713.5,351.2 Z" fill="#111"/>
<line x1="592.8" y1="320.2" x2="564.0" y2="348.2" stroke="#2a2a2a" stroke-width="0.9"/>
<line x1="696.2" y1="320.2" x2="725.0" y2="348.2" stroke="#2a2a2a" stroke-width="0.9"/>
<text x="646.5" y="372.6" font-size="13" font-weight="bold" text-anchor="middle" dominant-baseline="central">90°</text>
</g>
</svg>
</body></html>
